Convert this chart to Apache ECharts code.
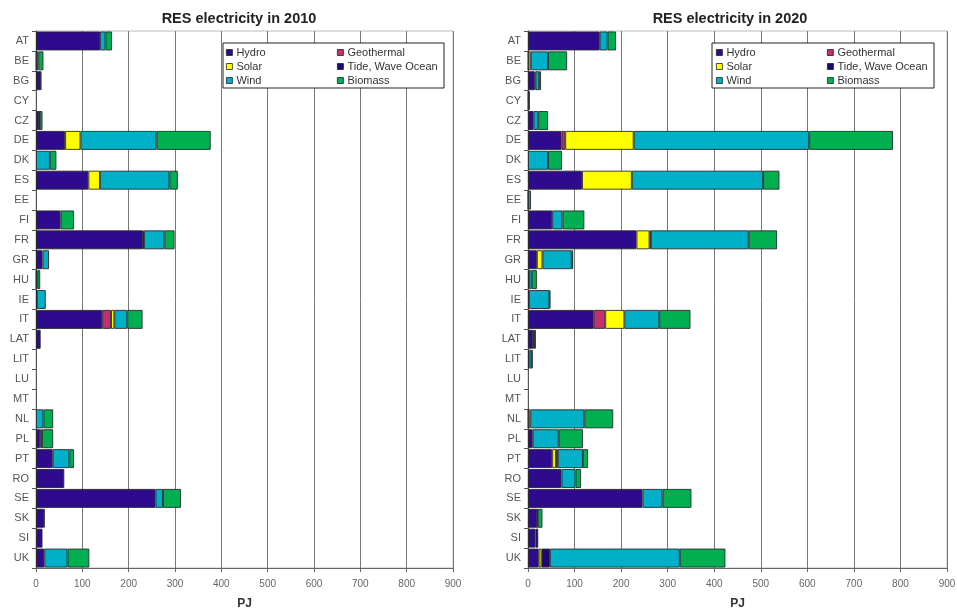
<!DOCTYPE html>
<html>
<head>
<meta charset="utf-8">
<script src="https://cdn.jsdelivr.net/npm/echarts@6/dist/echarts.min.js"></script>
<style>
  html, body { margin: 0; padding: 0; background: #fff; }
  #chart { width: 957px; height: 610px; }
</style>
</head>
<body>
<div id="chart"></div>
<script>
// Member states (top to bottom)
const countries = ['AT','BE','BG','CY','CZ','DE','DK','ES','EE','FI','FR','GR','HU','IE','IT','LAT','LIT','LU','MT','NL','PL','PT','RO','SE','SK','SI','UK'];

// Renewable electricity by source, PJ — 2010
const hydro2010 = [138,1,10,0,7,63,0,113,0,53,231,14,1,2,143,10,0,0,0,0,9,36,61,258,17,14,18];
const geo2010   = [0,0,0,0,0,0,0,0,0,0,0,0,0,0,19,0,0,0,0,0,0,0,0,0,0,0,0];
const solar2010 = [0,0,0,0,0,33,0,25,0,0,0,0,0,0,7,0,0,0,0,0,0,0,0,0,0,0,0];
const tide2010  = [0,0,0,0,0,0,0,0,0,0,2,0,0,0,0,0,0,0,0,0,0,0,0,0,0,0,0];
const wind2010  = [12,4,1,0,1,164,30,150,0,0,44,14,2,19,28,0,0,0,0,16,4,36,0,16,0,0,50];
const bio2010   = [14,11,0,0,6,117,14,18,0,29,22,0,6,0,33,0,0,0,0,21,24,10,0,39,1.5,0,47];

// Renewable electricity by source, PJ — 2020
const hydro2020 = [154,1,14,0,12,72,0,116,0.5,52,233,19,2,2,141,11,3,0,0,1,10,52,72,246,20,16,23];
const geo2020   = [0,0,0,0,0,8,0,0,0,0,0,0,0,0,25,0,0,0,0,0,0,0,0,0,0,0,0];
const solar2020 = [0,5,0,1,0,147,0,107,0,0,28,12,0,0,41,0,0,0,0,4,0,8,0,0,0,0,6];
const tide2020  = [0,0,2,0,0,0,0,0,0,0,3,0,0,0,0,0,0,0,0,0,0,4,0,0,0,6,18];
const wind2020  = [17,37,8,3,10,377,43,282,6,22,210,63,6,44,75,2,5,0,0,116,56,54,30,43,1,0,279];
const bio2020   = [18,41,4,0,21,180,30,35,0,47,61,3,11,2,67,4,2,0,0,62,52,11,12,62,10,0,98];

const xTicks = [0,100,200,300,400,500,600,700,800,900];
const titles = ['RES electricity in 2010', 'RES electricity in 2020'];

const sources = [
  { name: 'Hydro',            color: '#2E0B8E', d: [hydro2010, hydro2020] },
  { name: 'Geothermal',       color: '#C3306F', d: [geo2010,   geo2020] },
  { name: 'Solar',            color: '#FFFF00', d: [solar2010, solar2020] },
  { name: 'Tide, Wave Ocean', color: '#1B0872', d: [tide2010,  tide2020] },
  { name: 'Wind',             color: '#00AFC8', d: [wind2010,  wind2020] },
  { name: 'Biomass',          color: '#00B050', d: [bio2010,   bio2020] }
];

const FONT = 'Liberation Sans, Arial, sans-serif';
const grids = [
  { left: 36,  right: 504, top: 31, bottom: 42 },
  { left: 528, right: 10,  top: 31, bottom: 42 }
];

function xAxis(i) {
  return {
    type: 'value', gridIndex: i, min: xTicks[0], max: xTicks[xTicks.length - 1], interval: 100,
    name: 'PJ', nameLocation: 'middle', nameGap: 30,
    nameTextStyle: { fontFamily: FONT, fontSize: 12, fontWeight: 'bold', color: '#333' },
    axisLine: { show: true, lineStyle: { color: '#666', width: 1 } },
    axisTick: { show: true, length: 4, lineStyle: { color: '#666' } },
    axisLabel: { fontFamily: FONT, fontSize: 10, color: '#666', margin: 11 },
    splitLine: { show: true, lineStyle: { color: '#777', width: 1 } }
  };
}
function yAxis(i) {
  return {
    type: 'category', gridIndex: i, data: countries, inverse: true,
    axisLine: { show: true, lineStyle: { color: '#555', width: 1 } },
    axisTick: { show: true, length: 4, interval: 0, lineStyle: { color: '#555' } },
    axisLabel: { fontFamily: FONT, fontSize: 11, color: '#555', margin: 7, interval: 0 },
    splitLine: { show: false }
  };
}

const series = [];
[0, 1].forEach(function (g) {
  sources.forEach(function (s) {
    series.push({
      name: s.name, type: 'bar', stack: 'y' + g,
      xAxisIndex: g, yAxisIndex: g,
      barCategoryGap: '5%',
      itemStyle: { color: s.color, borderColor: '#2a2a2a', borderWidth: 0.9 },
      data: s.d[g].map(function (v) { return v === 0 ? '-' : v; })
    });
  });
});

// Two-column legends inside a framed box for each panel
const legendBoxes = [
  { x: 223, y: 43, w: 221, h: 45, c1: 226, c2: 337 },
  { x: 712, y: 43, w: 222, h: 45, c1: 716, c2: 827 }
];
const legends = [];
legendBoxes.forEach(function (b) {
  [[['Hydro','Solar','Wind'], b.c1], [['Geothermal','Tide, Wave Ocean','Biomass'], b.c2]].forEach(function (col) {
    legends.push({
      orient: 'vertical', left: col[1], top: b.y + 3, z: 10,
      data: col[0], icon: 'rect', itemWidth: 6, itemHeight: 6, itemGap: 1,
      selectedMode: false,
      textStyle: { fontFamily: FONT, fontSize: 11, color: '#333', lineHeight: 13, padding: [0, 0, 0, -1] },
      itemStyle: { borderColor: '#222', borderWidth: 0.8 },
      padding: 0
    });
  });
});

const chart = echarts.init(document.getElementById('chart'), null, { renderer: 'canvas' });
chart.setOption({
  backgroundColor: '#fff',
  animation: false,
  title: [
    { text: titles[0], left: 234, top: 6, textAlign: 'center',
      textStyle: { fontFamily: FONT, fontSize: 14.5, fontWeight: 'bold', color: '#222' } },
    { text: titles[1], left: 725, top: 6, textAlign: 'center',
      textStyle: { fontFamily: FONT, fontSize: 14.5, fontWeight: 'bold', color: '#222' } }
  ],
  grid: grids.map(function (g) {
    return Object.assign({ show: true, borderColor: '#bbb', borderWidth: 1,
                           containLabel: false, outerBoundsMode: 'none' }, g);
  }),
  xAxis: [xAxis(0), xAxis(1)],
  yAxis: [yAxis(0), yAxis(1)],
  legend: legends,
  graphic: legendBoxes.map(function (b) {
    return { type: 'rect', z: 5, shape: { x: b.x, y: b.y, width: b.w, height: b.h },
             style: { fill: '#fff', stroke: '#222', lineWidth: 1 } };
  }),
  series: series
});
</script>
</body>
</html>
